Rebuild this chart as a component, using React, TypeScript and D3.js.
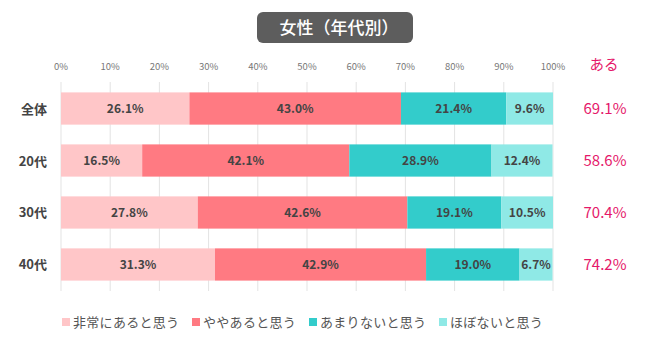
import React from "react";
import * as d3 from "d3";

const categories = ["全体", "20代", "30代", "40代"];
const seriesNames = ["非常にあると思う", "ややあると思う", "あまりないと思う", "ほぼないと思う"];
const verySeries = [26.1, 16.5, 27.8, 31.3];
const somewhatSeries = [43.0, 42.1, 42.6, 42.9];
const notMuchSeries = [21.4, 28.9, 19.1, 19.0];
const hardlySeries = [9.6, 12.4, 10.5, 6.7];
const totalAru = [69.1, 58.6, 70.4, 74.2];
const xTicks = [0, 10, 20, 30, 40, 50, 60, 70, 80, 90, 100];
const colors = ["#ffc6c8", "#ff7a82", "#33cccb", "#8fe9e6"];

const FONT = "'Noto Sans CJK JP', 'Noto Sans', sans-serif";

export default function App() {
  const W = 650, H = 350;
  const x = d3.scaleLinear().domain([0, 100]).range([61, 553]);
  const y = d3.scaleBand().domain(categories).range([82, 291]).paddingInner(0.38).paddingOuter(0.2);
  const rows = categories.map((c, i) => ({
    cat: c,
    vals: [verySeries[i], somewhatSeries[i], notMuchSeries[i], hardlySeries[i]],
  }));
  const legendX = [62, 192, 309, 439];
  return (
    <svg width={W} height={H} style={{ position: "absolute", left: 0, top: 0, fontFamily: FONT }}>
      <rect x={0} y={0} width={W} height={H} fill="#fff" />
      <rect x={257} y={12} width={156} height={31} rx={6} fill="#5d5d5d" />
      <text x={339} y={33.5} textAnchor="middle" fill="#fff" fontSize={17} fontWeight={500}>女性（年代別）</text>
      {xTicks.map((t) => (
        <g key={t}>
          <line x1={x(t)} x2={x(t)} y1={82} y2={291} stroke="#e3e3e3" strokeWidth={1} />
          <text x={x(t)} y={70} textAnchor="middle" fontSize={9.5} fill="#777">{t}%</text>
        </g>
      ))}
      <text x={604} y={70} textAnchor="middle" fontSize={14.5} fill="#e5186a">ある</text>
      {rows.map((r, i) => {
        let acc = 0;
        const yy = y(r.cat)!;
        const bh = y.bandwidth();
        return (
          <g key={r.cat}>
            <text x={47} y={yy + bh / 2 + 5} textAnchor="end" fontSize={13} fontWeight={700} fill="#444">{r.cat}</text>
            {r.vals.map((v, j) => {
              const x0 = x(acc);
              acc += v;
              const x1 = x(Math.min(acc, 100));
              return (
                <g key={j}>
                  <rect x={x0} y={yy} width={x1 - x0} height={bh} fill={colors[j]} />
                  <text x={(x0 + x1) / 2} y={yy + bh / 2 + 4.5} textAnchor="middle" fontSize={12} fontWeight={700} fill="#444">{v.toFixed(1)}%</text>
                </g>
              );
            })}
            <text x={605} y={yy + bh / 2 + 5.5} textAnchor="middle" fontSize={15} fill="#e5186a">{totalAru[i].toFixed(1)}%</text>
          </g>
        );
      })}
      {seriesNames.map((s, j) => (
        <g key={s}>
          <rect x={legendX[j]} y={318} width={8} height={8} fill={colors[j]} />
          <text x={legendX[j] + 11} y={327} fontSize={13} fill="#555" letterSpacing={0.3}>{s}</text>
        </g>
      ))}
    </svg>
  );
}
